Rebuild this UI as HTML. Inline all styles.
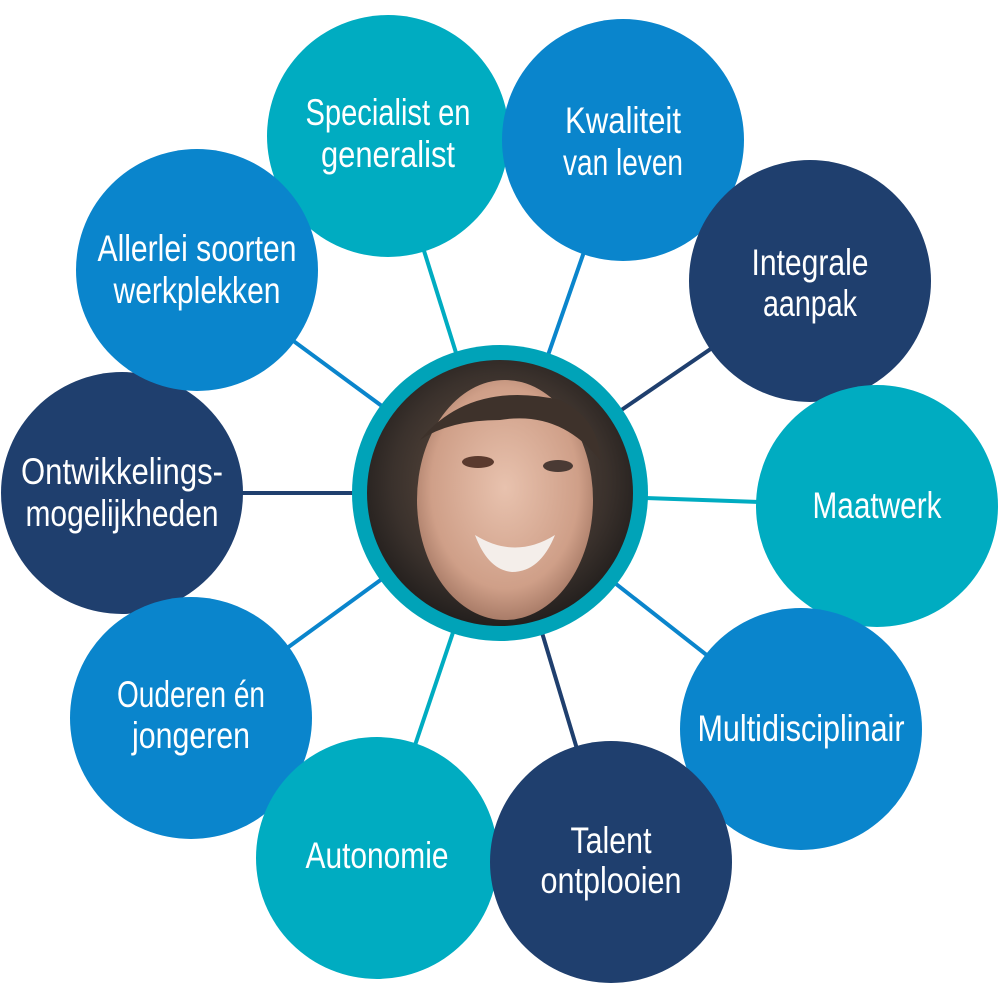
<!DOCTYPE html>
<html><head><meta charset="utf-8"><style>
html,body{margin:0;padding:0;background:#fff;}
svg{display:block;}
text{font-family:"Liberation Sans Narrow","Liberation Sans",sans-serif;fill:#fff;font-size:37px;text-anchor:middle;}
</style></head><body>
<svg width="998" height="991" viewBox="0 0 998 991" xmlns="http://www.w3.org/2000/svg">
<defs>
<radialGradient id="hair" cx="50%" cy="45%" r="55%">
<stop offset="0" stop-color="#6b5546"/><stop offset="0.7" stop-color="#3a312c"/><stop offset="1" stop-color="#1e1b1a"/></radialGradient>
<radialGradient id="skin" cx="50%" cy="45%" r="60%">
<stop offset="0" stop-color="#e8c2ae"/><stop offset="0.7" stop-color="#cf9f88"/><stop offset="1" stop-color="#9b6f5c"/></radialGradient>
<clipPath id="pc"><circle cx="500" cy="493" r="133"/></clipPath>
</defs>
<g stroke-width="4">
<line x1="500" y1="493" x2="388" y2="136" stroke="#00acc1"/>
<line x1="500" y1="493" x2="623" y2="140" stroke="#0a85cc"/>
<line x1="500" y1="493" x2="810" y2="281" stroke="#1f3f6e"/>
<line x1="500" y1="493" x2="877" y2="506" stroke="#00acc1"/>
<line x1="500" y1="493" x2="801" y2="729" stroke="#0a85cc"/>
<line x1="500" y1="493" x2="611" y2="862" stroke="#1f3f6e"/>
<line x1="500" y1="493" x2="377" y2="858" stroke="#00acc1"/>
<line x1="500" y1="493" x2="191" y2="718" stroke="#0a85cc"/>
<line x1="500" y1="493" x2="122" y2="493" stroke="#1f3f6e"/>
<line x1="500" y1="493" x2="197" y2="270" stroke="#0a85cc"/>
</g>
<circle cx="388" cy="136" r="121" fill="#00acc1"/>
<circle cx="623" cy="140" r="121" fill="#0a85cc"/>
<circle cx="810" cy="281" r="121" fill="#1f3f6e"/>
<circle cx="877" cy="506" r="121" fill="#00acc1"/>
<circle cx="801" cy="729" r="121" fill="#0a85cc"/>
<circle cx="122" cy="493" r="121" fill="#1f3f6e"/>
<circle cx="191" cy="718" r="121" fill="#0a85cc"/>
<circle cx="377" cy="858" r="121" fill="#00acc1"/>
<circle cx="611" cy="862" r="121" fill="#1f3f6e"/>
<circle cx="197" cy="270" r="121" fill="#0a85cc"/>

<circle cx="500" cy="493" r="148" fill="#00a3b8"/>
<g clip-path="url(#pc)">
<rect x="360" y="355" width="280" height="280" fill="url(#hair)"/>
<ellipse cx="505" cy="500" rx="88" ry="120" fill="url(#skin)"/>
<path d="M420 440 Q470 380 560 400 Q600 420 600 460 Q560 410 500 420 Q450 420 420 440Z" fill="#3e322b"/>
<ellipse cx="478" cy="462" rx="16" ry="6" fill="#5a3a2e"/>
<ellipse cx="558" cy="466" rx="15" ry="6" fill="#4a3a34"/>
<path d="M475 535 Q515 560 555 535 Q540 572 512 572 Q488 570 475 535Z" fill="#f4eeea"/>
</g>

<text x="388" textLength="165" lengthAdjust="spacingAndGlyphs" y="125">Specialist en</text>
<text x="388" textLength="134" lengthAdjust="spacingAndGlyphs" y="167">generalist</text>
<text x="623" textLength="116" lengthAdjust="spacingAndGlyphs" y="133">Kwaliteit</text>
<text x="623" textLength="120" lengthAdjust="spacingAndGlyphs" y="175">van leven</text>
<text x="810" textLength="117" lengthAdjust="spacingAndGlyphs" y="275">Integrale</text>
<text x="810" textLength="94" lengthAdjust="spacingAndGlyphs" y="316">aanpak</text>
<text x="877" textLength="129" lengthAdjust="spacingAndGlyphs" y="518">Maatwerk</text>
<text x="801" textLength="207" lengthAdjust="spacingAndGlyphs" y="741">Multidisciplinair</text>
<text x="611" textLength="81" lengthAdjust="spacingAndGlyphs" y="853">Talent</text>
<text x="611" textLength="141" lengthAdjust="spacingAndGlyphs" y="893">ontplooien</text>
<text x="377" textLength="143" lengthAdjust="spacingAndGlyphs" y="868">Autonomie</text>
<text x="191" textLength="148" lengthAdjust="spacingAndGlyphs" y="707">Ouderen én</text>
<text x="191" textLength="118" lengthAdjust="spacingAndGlyphs" y="748">jongeren</text>
<text x="122" textLength="202" lengthAdjust="spacingAndGlyphs" y="484">Ontwikkelings-</text>
<text x="122" textLength="193" lengthAdjust="spacingAndGlyphs" y="526">mogelijkheden</text>
<text x="197" textLength="199" lengthAdjust="spacingAndGlyphs" y="261">Allerlei soorten</text>
<text x="197" textLength="167" lengthAdjust="spacingAndGlyphs" y="303">werkplekken</text>
</svg>
</body></html>
